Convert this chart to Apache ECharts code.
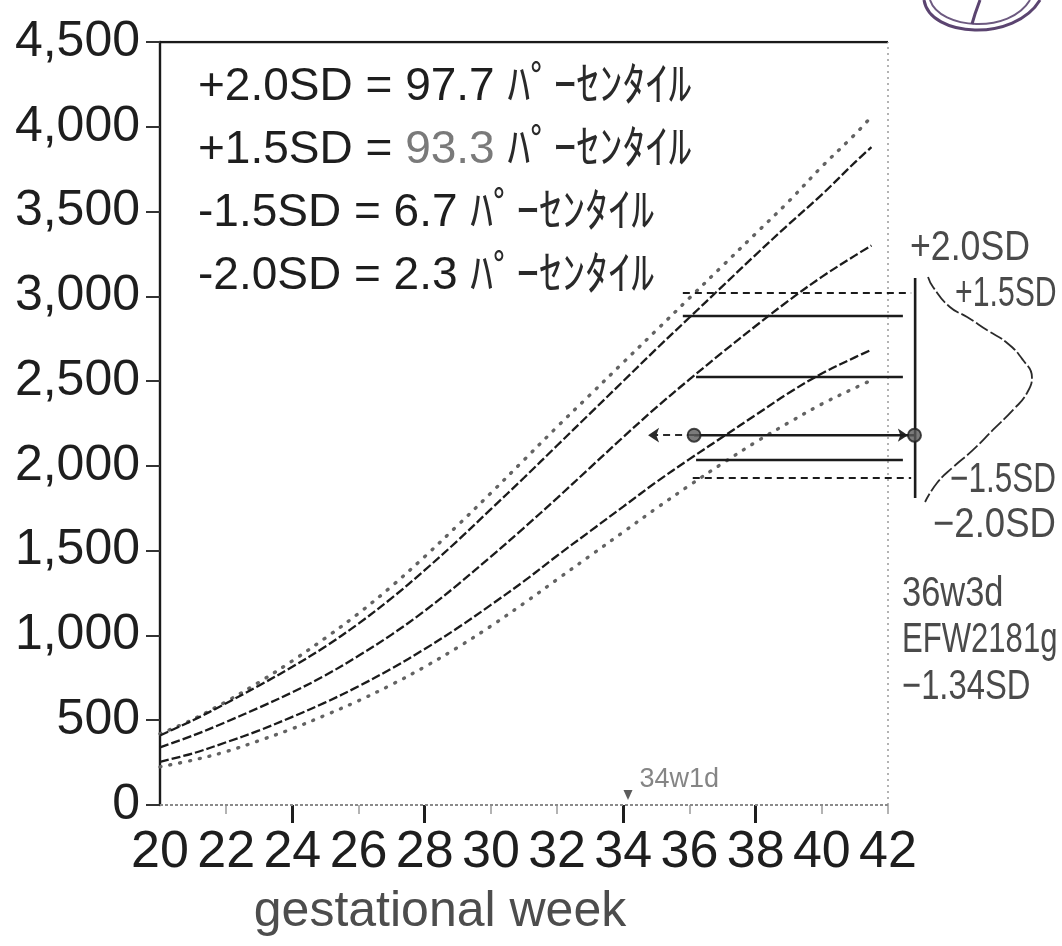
<!DOCTYPE html>
<html>
<head>
<meta charset="utf-8">
<title>EFW growth curve</title>
<script src="https://cdn.jsdelivr.net/npm/echarts@6/dist/echarts.min.js"></script>
<style>
  html, body { margin: 0; padding: 0; background: #ffffff; }
  #chart { width: 1062px; height: 946px; }
</style>
</head>
<body>
<div id="chart"></div>
<script>
// ---- growth standard (estimated fetal weight, g) by gestational week ----
const weeks      = [20, 21, 22, 23, 24, 25, 26, 27, 28, 29, 30, 31, 32, 33, 34, 35, 36, 37, 38, 39, 40, 41, 41.5];
const sdPlus20   = [420, 505, 610, 725, 850, 985, 1130, 1290, 1465, 1650, 1840, 2035, 2230, 2420, 2610, 2800, 2990, 3180, 3370, 3560, 3765, 3955, 4060];
const sdPlus15   = [410, 500, 600, 705, 815, 935, 1070, 1220, 1385, 1560, 1745, 1930, 2120, 2310, 2500, 2690, 2875, 3060, 3245, 3425, 3600, 3790, 3880];
const meanCurve  = [340, 410, 490, 575, 665, 765, 880, 1005, 1145, 1300, 1465, 1635, 1810, 1990, 2170, 2345, 2510, 2670, 2825, 2975, 3115, 3240, 3300];
const sdMinus15  = [255, 305, 370, 440, 520, 605, 700, 805, 920, 1045, 1180, 1320, 1470, 1615, 1760, 1905, 2040, 2170, 2300, 2430, 2545, 2640, 2685];
const sdMinus20  = [225, 265, 315, 380, 450, 530, 615, 710, 815, 930, 1055, 1190, 1330, 1470, 1610, 1750, 1885, 2015, 2140, 2255, 2365, 2460, 2505];

// ---- axes ----
const weekMin = 20, weekMax = 42, weekAxisEnd = 47;
const weekLabels = [20, 22, 24, 26, 28, 30, 32, 34, 36, 38, 40, 42];
const weekMajorTicks = [24, 28, 34, 38];
const weekMinorTicks = [22, 26, 30, 32, 36, 40, 42];
const weightMin = 0, weightMax = 4500, weightStep = 500;

// ---- reading at 36w3d: reference levels (g) and their week span ----
const refNames  = ['+2.0SD', '+1.5SD', 'mean', '-1.5SD', '-2.0SD'];
const refValues = [3020, 2884, 2524, 2035, 1929];
const refFrom   = [35.8, 35.8, 36.2, 36.2, 36.1];
const refTo     = [42.7, 42.45, 42.45, 42.45, 42.7];
const refDashed = [true, false, false, false, true];

// ---- this fetus ----
const efwValue = 2181;            // EFW2181g
const efwWeekOnCurve = 36.14;     // point on the chart
const efwWeekOnScale = 42.8;      // point on the SD scale bar
const efwArrowLeftTo = 34.75;
const scaleBarWeek = 42.82;
const scaleBarRange = [1811, 3108];
const examWeek = 34 + 1 / 7;      // 34w1d

// ---- distribution bell drawn beside the SD scale bar: [week, g] ----
const bellPoints = [
  [43.21, 3114], [43.36, 3055], [43.87, 2937], [44.39, 2878], [44.99, 2801],
  [45.60, 2725], [46.08, 2624], [46.35, 2524], [46.20, 2430], [45.78, 2330],
  [45.17, 2212], [44.57, 2094], [43.97, 1993], [43.48, 1899], [43.12, 1787]
];

// ---- texts ----
const legendRows = [
  { sd: '+2.0SD', pct: '97.7', grey: false },
  { sd: '+1.5SD', pct: '93.3', grey: true },
  { sd: '-1.5SD', pct: '6.7',  grey: false },
  { sd: '-2.0SD', pct: '2.3',  grey: false }
];
const percentileWord = 'ﾊﾟｰｾﾝﾀｲﾙ';
const sideLabels = ['+2.0SD', '+1.5SD', '−1.5SD', '−2.0SD'];
const readingLabels = ['36w3d', 'EFW' + efwValue + 'g', '−1.34SD'];
const examLabel = '34w1d';
const xAxisTitle = 'gestational week';

const latinFont = "'Liberation Sans', Arial, 'Noto Sans CJK JP', sans-serif";
const axisFont = "'Liberation Sans', Arial, sans-serif";

function pairs(xs, ys) { return xs.map((x, i) => [x, ys[i]]); }

const inkLine = { color: '#1b1b1b', width: 2.3, type: [9, 3] };
const dotLine = { color: '#636363', width: 3.4, type: [1, 9], cap: 'round' };

const series = [];

function curve(name, values, style) {
  series.push({
    name, type: 'line', data: pairs(weeks, values), smooth: 0.35,
    showSymbol: false, silent: true, lineStyle: style, z: 3
  });
}
curve('+2.0SD', sdPlus20, dotLine);
curve('+1.5SD', sdPlus15, inkLine);
curve('mean', meanCurve, inkLine);
curve('-1.5SD', sdMinus15, inkLine);
curve('-2.0SD', sdMinus20, dotLine);

// frame: top border, right dotted border, dotted baseline
series.push({
  type: 'line', silent: true, showSymbol: false, z: 2,
  data: [[weekMin, weightMax], [weekMax, weightMax]],
  lineStyle: { color: '#1a1a1a', width: 2.4 }
});
series.push({
  type: 'line', silent: true, showSymbol: false, z: 2,
  data: [[weekMax, weightMin], [weekMax, weightMax]],
  lineStyle: { color: '#9a9a9a', width: 1.5, type: [2, 4] }
});
series.push({
  type: 'line', silent: true, showSymbol: false, z: 2,
  data: [[weekMin, weightMin], [weekMax, weightMin]],
  lineStyle: { color: '#8a8a8a', width: 2, type: [3, 2] }
});

// reference levels at the reading week
refValues.forEach((v, i) => {
  series.push({
    name: 'ref ' + refNames[i], type: 'line', silent: true, showSymbol: false, z: 4,
    data: [[refFrom[i], v], [refTo[i], v]],
    lineStyle: refDashed[i]
      ? { color: '#1b1b1b', width: 2, type: [7, 5] }
      : { color: '#1b1b1b', width: 2.4 }
  });
});

// SD scale bar
series.push({
  type: 'line', silent: true, showSymbol: false, z: 4,
  data: [[scaleBarWeek, scaleBarRange[0]], [scaleBarWeek, scaleBarRange[1]]],
  lineStyle: { color: '#1b1b1b', width: 2.6 }
});

// distribution bell
series.push({
  type: 'line', silent: true, showSymbol: false, smooth: 0.5, z: 4,
  data: bellPoints,
  lineStyle: { color: '#2a2a2a', width: 1.8, type: [14, 3] }
});

// EFW line with arrows
series.push({
  type: 'line', silent: true, showSymbol: false, z: 5,
  data: [[efwWeekOnCurve, efwValue], [efwWeekOnScale, efwValue]],
  lineStyle: { color: '#1b1b1b', width: 2.4 },
  markLine: {
    silent: true, animation: false, label: { show: false },
    data: [
      [{ coord: [efwWeekOnCurve, efwValue], symbol: 'none' },
       { coord: [efwArrowLeftTo, efwValue], symbol: 'arrow', symbolSize: 11 }]
    ],
    lineStyle: { color: '#2a2a2a', width: 2, type: [7, 5] }
  }
});
series.push({
  type: 'line', silent: true, showSymbol: false, z: 5,
  data: [],
  markLine: {
    silent: true, animation: false, label: { show: false },
    data: [
      [{ coord: [efwWeekOnScale - 0.5, efwValue], symbol: 'none' },
       { coord: [efwWeekOnScale - 0.2, efwValue], symbol: 'arrow', symbolSize: 10 }]
    ],
    lineStyle: { color: '#2a2a2a', width: 2, type: 'solid' }
  }
});
series.push({
  type: 'scatter', silent: true, z: 6,
  data: [[efwWeekOnCurve, efwValue], [efwWeekOnScale, efwValue]],
  symbolSize: 13,
  itemStyle: { color: '#5a5a5a', borderColor: '#1e1e1e', borderWidth: 2 }
});

// exam date marker
series.push({
  type: 'scatter', silent: true, z: 6,
  data: [[examWeek, weightMin]],
  symbol: 'triangle', symbolRotate: 180, symbolSize: [9, 10], symbolOffset: [0, -10],
  itemStyle: { color: '#333333' },
  label: {
    show: true, formatter: examLabel, position: [16, -24],
    color: '#666666', fontSize: 27, fontFamily: axisFont
  }
});

// texts placed on the canvas
const graphics = [];
const legendTop = 87, legendStep = 63;
legendRows.forEach((row, i) => {
  graphics.push({
    type: 'text', x: 198, y: legendTop + i * legendStep, z: 10, silent: true,
    style: {
      text: '{a|' + row.sd + ' = }{' + (row.grey ? 'g' : 'a') + '|' + row.pct + '}{k| ' + percentileWord + '}',
      textVerticalAlign: 'middle', textAlign: 'left',
      rich: {
        a: { fontSize: 46, fontFamily: latinFont, fill: '#1e1e1e' },
        g: { fontSize: 46, fontFamily: latinFont, fill: '#7a7a7a' },
        k: { fontSize: 46, fontFamily: latinFont, fill: '#2a2a2a' }
      }
    }
  });
});

const sidePos = [[910, 248, 0.85], [955, 294, 0.72], [950, 480, 0.75], [933, 525, 0.87]];
sideLabels.forEach((t, i) => {
  graphics.push({
    type: 'text', x: sidePos[i][0], y: sidePos[i][1], scaleX: sidePos[i][2], z: 10, silent: true,
    style: { text: t, font: '42px ' + latinFont, fill: '#4a4a4a', textVerticalAlign: 'middle' }
  });
});
const readPos = [[902, 594, 0.82], [902, 640, 0.74], [902, 687, 0.78]];
readingLabels.forEach((t, i) => {
  graphics.push({
    type: 'text', x: readPos[i][0], y: readPos[i][1], scaleX: readPos[i][2], z: 10, silent: true,
    style: { text: t, font: '42px ' + latinFont, fill: '#4a4a4a', textVerticalAlign: 'middle' }
  });
});
graphics.push({
  type: 'text', x: 440, y: 912, z: 10, silent: true,
  style: { text: xAxisTitle, font: '50px ' + latinFont, fill: '#4d4d4d', textAlign: 'center', textVerticalAlign: 'middle' }
});
// pen mark in the top-right corner
graphics.push({
  type: 'bezierCurve', z: 9, silent: true,
  shape: { x1: 924, y1: 0, cpx1: 930, cpy1: 38, cpx2: 1015, cpy2: 42, x2: 1040, y2: 0 },
  style: { stroke: '#5b4470', lineWidth: 3, fill: null }
});
graphics.push({
  type: 'bezierCurve', z: 9, silent: true,
  shape: { x1: 930, y1: 0, cpx1: 940, cpy1: 30, cpx2: 1010, cpy2: 34, x2: 1030, y2: 0 },
  style: { stroke: '#6d5a80', lineWidth: 2, fill: null }
});
graphics.push({
  type: 'polyline', z: 9, silent: true,
  shape: { points: [[980, 0], [975, 14], [972, 24]] },
  style: { stroke: '#5b4470', lineWidth: 3, fill: null }
});

const chart = echarts.init(document.getElementById('chart'), null, { renderer: 'canvas' });
chart.setOption({
  backgroundColor: '#ffffff',
  animation: false,
  grid: { left: 160, right: 1062 - 160 - (weekAxisEnd - weekMin) * (728 / 22), top: 42, bottom: 141, containLabel: false },
  xAxis: [
    {
      type: 'value', min: weekMin, max: weekAxisEnd,
      axisLine: { show: false },
      splitLine: { show: false },
      axisTick: { show: true, customValues: weekMinorTicks, length: 9, lineStyle: { color: '#9a9a9a', width: 1.5 } },
      axisLabel: {
        show: true, customValues: weekLabels, margin: 22,
        fontSize: 52, fontFamily: axisFont, color: '#1e1e1e'
      }
    },
    {
      type: 'value', min: weekMin, max: weekAxisEnd, position: 'bottom',
      axisLine: { show: false },
      splitLine: { show: false },
      axisLabel: { show: false },
      axisTick: { show: true, customValues: weekMajorTicks, length: 18, lineStyle: { color: '#1e1e1e', width: 3 } }
    }
  ],
  yAxis: {
    type: 'value', min: weightMin, max: weightMax, interval: weightStep,
    axisLine: { show: true, lineStyle: { color: '#1a1a1a', width: 2.4 } },
    axisTick: { show: true, length: 14, lineStyle: { color: '#333333', width: 2 } },
    splitLine: { show: false },
    axisLabel: {
      margin: 20, fontSize: 50, fontFamily: axisFont, color: '#1e1e1e',
      formatter: v => v.toLocaleString('en-US')
    }
  },
  graphic: graphics,
  series: series
});
</script>
</body>
</html>
